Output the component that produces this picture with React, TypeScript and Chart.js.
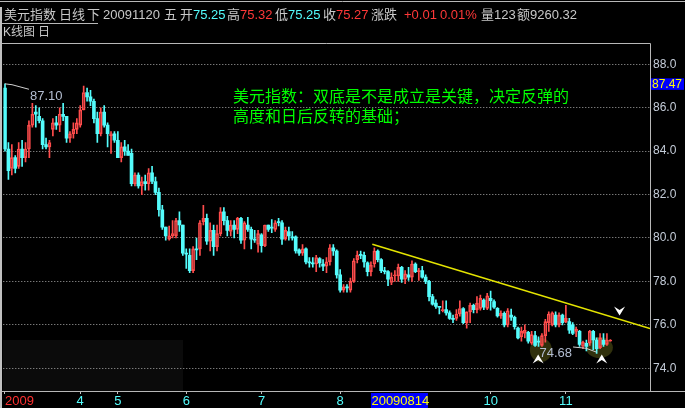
import React, { useEffect, useRef } from 'react';
import { Chart, registerables } from 'chart.js';

Chart.register(...registerables);

// ---- data (daily K-line, 美元指数) ----
const openP = [
  86.9, 84.1, 83.2, 83.7, 83.3, 84.1, 83.7, 84.1, 85.2, 85.8,
  85.6, 85.4, 84.3, 84.2, 85.0, 85.3, 85.2, 85.7, 85.6, 84.6,
  84.8, 85.0, 85.2, 85.9, 86.7, 86.5, 86.3, 85.5, 84.8, 85.8,
  85.2, 84.7, 84.8, 84.5, 83.7, 84.2, 84.0, 83.9, 82.5, 82.9,
  82.4, 82.6, 82.5, 83.0, 82.6, 82.1, 81.3, 80.5, 79.95, 80.1,
  80.1, 80.8, 80.6, 79.3, 79.2, 78.5, 79.5, 79.5, 80.75, 80.9,
  79.85, 80.35, 79.6, 80.2, 81.2, 80.8, 80.3, 80.6, 80.4, 80.9,
  79.9, 80.6, 80.4, 79.95, 79.7, 80.15, 79.65, 80.6, 80.5, 80.4,
  80.75, 80.7, 79.95, 80.3, 80.05, 80.05, 79.45, 79.3, 79.5, 78.9,
  78.85, 78.8, 79.05, 78.8, 78.7, 78.9, 79.55, 79.4, 78.3, 77.6,
  77.75, 77.6, 78.0, 79.0, 79.25, 79.2, 78.85, 78.45, 78.8, 79.4,
  79.0, 78.5, 78.45, 77.95, 78.25, 78.25, 78.65, 78.1, 78.3, 78.2,
  78.8, 78.45, 78.5, 78.2, 78.0, 77.3, 77.0, 76.85, 76.65, 76.7,
  76.55, 76.3, 76.3, 76.5, 76.75, 76.1, 76.6, 76.9, 76.7, 76.76,
  77.14, 76.76, 77.22, 77.07, 76.76, 76.41, 76.53, 75.99, 76.45, 76.35,
  75.85, 75.45, 75.6, 75.65, 75.15, 75.5, 75.25, 75.05, 75.5, 76.1,
  76.0, 76.45, 76.0, 76.45, 76.15, 76.15, 76.0, 75.7, 75.7, 75.0,
  75.15, 75.15, 75.7, 75.3, 74.95, 75.3, 75.1, 75.25,
];
const highP = [
  87.1, 84.4, 84.3, 83.8, 84.4, 84.5, 84.4, 85.4, 86.2, 86.1,
  86.0, 85.5, 84.6, 84.5, 85.5, 85.6, 86.0, 86.2, 85.6, 84.9,
  85.3, 85.5, 86.1, 87.0, 86.9, 86.8, 86.4, 85.8, 86.0, 86.1,
  85.3, 84.9, 84.9, 84.9, 84.4, 84.5, 84.3, 84.1, 83.0, 83.0,
  82.8, 82.9, 83.2, 83.3, 82.8, 82.3, 81.5, 80.5, 80.55, 80.8,
  80.9, 81.2, 80.6, 79.5, 79.5, 79.6, 80.0, 80.8, 81.5, 81.1,
  80.7, 80.6, 80.6, 81.4, 81.4, 81.0, 80.8, 80.8, 80.95, 80.95,
  80.75, 80.95, 80.5, 80.35, 80.35, 80.2, 80.6, 80.6, 80.85, 80.8,
  80.9, 80.8, 80.5, 80.5, 80.3, 80.1, 79.5, 79.7, 79.55, 79.1,
  79.1, 79.2, 79.1, 79.0, 79.1, 79.7, 79.7, 79.45, 78.55, 77.85,
  77.85, 78.15, 79.05, 79.4, 79.4, 79.35, 78.9, 78.9, 79.55, 79.45,
  79.05, 78.65, 78.5, 78.4, 78.5, 78.8, 78.7, 78.5, 78.65, 78.95,
  78.85, 78.6, 78.7, 78.3, 78.05, 77.4, 77.15, 76.85, 77.1, 77.1,
  76.65, 76.45, 76.7, 77.1, 76.8, 76.6, 77.0, 76.95, 77.3, 77.37,
  77.2, 77.45, 77.56, 77.15, 76.8, 76.65, 76.6, 76.75, 76.72, 76.4,
  75.9, 75.9, 76.0, 75.7, 75.7, 75.7, 75.45, 75.6, 76.25, 76.6,
  76.6, 76.6, 76.55, 76.5, 76.9, 76.3, 76.1, 75.9, 75.75, 75.25,
  75.3, 75.75, 75.75, 75.4, 75.6, 75.6, 75.6, 75.32,
];
const lowP = [
  84.0, 82.7, 82.9, 83.0, 83.2, 83.3, 83.5, 83.7, 85.1, 85.1,
  85.3, 84.1, 84.1, 83.7, 84.7, 85.0, 84.9, 85.4, 84.4, 84.4,
  84.6, 84.8, 85.1, 85.9, 86.3, 86.1, 85.3, 84.4, 84.7, 85.1,
  84.2, 83.9, 84.4, 83.7, 83.5, 83.8, 83.8, 82.4, 82.4, 82.3,
  82.0, 82.2, 82.2, 82.5, 82.0, 81.0, 80.4, 79.9, 79.9, 80.0,
  80.0, 80.3, 79.2, 78.6, 78.4, 78.4, 79.0, 79.2, 80.6, 79.7,
  79.4, 79.2, 79.4, 80.1, 80.6, 80.1, 80.1, 80.0, 80.2, 79.75,
  79.5, 80.3, 79.5, 79.8, 79.35, 79.35, 79.6, 80.3, 80.25, 80.3,
  80.55, 79.7, 79.9, 79.9, 79.9, 79.3, 79.2, 79.2, 78.8, 78.65,
  78.65, 78.45, 78.65, 78.5, 78.4, 78.75, 79.2, 78.15, 77.5, 77.5,
  77.5, 77.5, 77.95, 78.85, 79.05, 78.65, 78.25, 78.25, 78.65, 78.9,
  78.4, 78.35, 77.8, 77.85, 78.0, 78.0, 77.95, 77.9, 78.05, 78.0,
  78.4, 78.05, 78.15, 77.9, 77.1, 76.9, 76.75, 76.5, 76.6, 76.45,
  76.25, 76.1, 76.2, 76.4, 76.05, 75.85, 76.1, 76.55, 76.55, 76.68,
  76.7, 76.7, 76.68, 76.75, 76.35, 76.3, 75.9, 75.9, 76.2, 75.8,
  75.35, 75.25, 75.4, 75.15, 75.1, 75.0, 75.0, 75.0, 75.2, 75.7,
  75.95, 75.9, 75.9, 76.0, 76.1, 75.6, 75.55, 75.45, 75.0, 74.9,
  74.8, 75.05, 74.85, 74.68, 74.9, 75.0, 75.05, 75.25,
];
const closeP = [
  84.1, 83.1, 83.7, 83.2, 84.1, 83.7, 84.1, 85.2, 85.7, 85.7,
  85.4, 84.3, 84.2, 84.4, 85.3, 85.2, 85.7, 85.6, 84.6, 84.8,
  85.0, 85.3, 85.9, 86.7, 86.5, 86.3, 85.5, 84.8, 85.8, 85.2,
  84.8, 84.8, 84.5, 83.7, 84.2, 84.0, 83.8, 82.5, 82.9, 82.4,
  82.6, 82.5, 83.0, 82.6, 82.1, 81.3, 80.5, 80.1, 80.1, 80.2,
  80.8, 80.6, 79.3, 79.25, 78.5, 79.5, 79.45, 80.7, 80.9, 79.85,
  80.35, 79.6, 80.2, 81.2, 80.8, 80.35, 80.6, 80.4, 80.9, 79.9,
  80.7, 80.4, 79.95, 79.9, 80.2, 79.65, 80.6, 80.4, 80.45, 80.7,
  80.7, 79.95, 80.35, 80.1, 80.0, 79.4, 79.3, 79.5, 78.9, 78.85,
  78.8, 79.1, 78.85, 78.7, 78.9, 79.55, 79.4, 78.3, 77.6, 77.75,
  77.7, 78.0, 78.95, 79.2, 79.2, 78.9, 78.45, 78.75, 79.4, 79.0,
  78.5, 78.45, 78.1, 78.2, 78.3, 78.65, 78.1, 78.35, 78.2, 78.8,
  78.45, 78.5, 78.2, 78.0, 77.3, 76.95, 76.85, 76.8, 76.7, 76.55,
  76.3, 76.25, 76.5, 76.75, 76.1, 76.6, 76.9, 76.7, 77.0, 77.22,
  76.81, 77.33, 77.11, 76.81, 76.41, 76.53, 75.99, 76.65, 76.35, 75.91,
  75.4, 75.7, 75.75, 75.25, 75.55, 75.05, 75.2, 75.5, 76.15, 76.5,
  76.55, 76.0, 76.45, 76.1, 76.3, 75.75, 75.6, 75.8, 75.1, 75.2,
  75.0, 75.7, 75.3, 74.9, 75.4, 75.1, 75.3, 75.27,
];

// month boundaries (candle index) and their labels
const monthTickIdx = [0, 22, 33, 53, 75, 98, 142, 164];
const monthTickLabels = ['2009', '4', '5', '6', '7', '8', '10', '11'];
const yTickValues = [74, 76, 78, 80, 82, 84, 86, 88];

// trend line (index, price)
const trendIdx = [107.4, 188.6];
const trendPrice = [79.71, 75.83];

// leader lines to marked high / low
const highLeaderIdx = [0, 2.05, 7.0];
const highLeaderPrice = [87.1, 87.06, 86.85];
const lowLeaderIdx = [166.1, 169.9, 173.0];
const lowLeaderPrice = [74.98, 74.92, 74.74];

const cursorIdx = 107;
const cursorDate = '20090814';
const cursorPrice = '87.47';

const RED = '#ff4c4c';
const CYAN = '#54fcfc';
const GREY = '#c8c8c8';
const TXTRED = '#ff3838';
const LAT = "'Liberation Sans', 'Noto Sans CJK SC', sans-serif";
const CJK = "'Noto Sans CJK SC', sans-serif";

const headerSegs = [
  { t: '美元指数', x: 4, c: GREY },
  { t: '日线', x: 59, c: GREY },
  { t: '下', x: 87, c: GREY },
  { t: '20091120', x: 103, c: GREY },
  { t: '五', x: 164, c: GREY },
  { t: '开', x: 180, c: GREY },
  { t: '75.25', x: 193, c: CYAN },
  { t: '高', x: 227, c: GREY },
  { t: '75.32', x: 240, c: TXTRED },
  { t: '低', x: 275, c: GREY },
  { t: '75.25', x: 288, c: CYAN },
  { t: '收', x: 323, c: GREY },
  { t: '75.27', x: 336, c: TXTRED },
  { t: '涨跌', x: 371, c: GREY },
  { t: '+0.01', x: 404, c: TXTRED },
  { t: '0.01%', x: 440, c: TXTRED },
  { t: '量123', x: 481, c: GREY },
  { t: '额9260.32', x: 517, c: GREY },
];

const chevron = (ctx: any, cx: number, cy: number, dir: number) => {
  ctx.beginPath();
  ctx.moveTo(cx, cy - 4.5 * dir);
  ctx.lineTo(cx + 5.5, cy + 4.5 * dir);
  ctx.lineTo(cx, cy + 1 * dir);
  ctx.lineTo(cx - 5.5, cy + 4.5 * dir);
  ctx.closePath();
  ctx.fill();
};

const decorPlugin = {
  id: 'decor',
  beforeDraw(chart: any) {
    const ctx = chart.ctx;
    ctx.save();
    ctx.fillStyle = '#000';
    ctx.fillRect(0, 0, chart.width, chart.height);
    ctx.fillStyle = '#0b0b0b';
    ctx.fillRect(3, 340, 180, 51);
    ctx.restore();
  },
  beforeDatasetsDraw(chart: any) {
    const ctx = chart.ctx;
    const xs = chart.scales.x;
    const ys = chart.scales.y;
    ctx.save();
    ctx.fillStyle = 'rgba(52,52,14,0.95)';
    ctx.beginPath();
    ctx.ellipse(xs.getPixelForValue(156.7), ys.getPixelForValue(74.84), 11, 12, 0, 0, Math.PI * 2);
    ctx.fill();
    ctx.beginPath();
    ctx.ellipse(xs.getPixelForValue(173.8), ys.getPixelForValue(74.95), 13.5, 10.5, 0, 0, Math.PI * 2);
    ctx.fill();
    ctx.restore();
  },
  afterDraw(chart: any) {
    const ctx = chart.ctx;
    const xs = chart.scales.x;
    const ys = chart.scales.y;
    const ca = chart.chartArea;
    ctx.save();
    // frame
    ctx.strokeStyle = '#b8b8b8';
    ctx.lineWidth = 1;
    ctx.beginPath();
    ctx.moveTo(0, 1.5); ctx.lineTo(chart.width, 1.5);
    ctx.moveTo(2, 23.5); ctx.lineTo(98, 23.5);
    ctx.moveTo(2, Math.round(ca.top) - 0.5); ctx.lineTo(Math.round(ca.right) + 0.5, Math.round(ca.top) - 0.5);
    ctx.moveTo(Math.round(ca.right) + 0.5, Math.round(ca.top) - 0.5); ctx.lineTo(Math.round(ca.right) + 0.5, Math.round(ca.bottom) + 0.5);
    ctx.moveTo(2, Math.round(ca.bottom) + 0.5); ctx.lineTo(chart.width, Math.round(ca.bottom) + 0.5);
    ctx.stroke();
    ctx.lineWidth = 2;
    ctx.strokeStyle = '#c0c0c0';
    ctx.beginPath();
    ctx.moveTo(1, 7); ctx.lineTo(1, chart.height);
    ctx.stroke();

    // header
    ctx.textBaseline = 'middle';
    ctx.textAlign = 'left';
    ctx.font = `13px ${LAT}`;
    headerSegs.forEach((s) => {
      ctx.fillStyle = s.c;
      ctx.fillText(s.t, s.x, 15);
    });
    ctx.font = `12px ${LAT}`;
    ctx.fillStyle = GREY;
    ctx.fillText('K线图', 3, 33);
    ctx.fillText('日', 38, 33);

    // leader lines
    ctx.strokeStyle = '#d0d0d0';
    ctx.lineWidth = 1;
    ctx.beginPath();
    highLeaderIdx.forEach((v, i) => {
      const px = xs.getPixelForValue(v), py = ys.getPixelForValue(highLeaderPrice[i]);
      if (i === 0) ctx.moveTo(px, py); else ctx.lineTo(px, py);
    });
    ctx.stroke();
    ctx.beginPath();
    lowLeaderIdx.forEach((v, i) => {
      const px = xs.getPixelForValue(v), py = ys.getPixelForValue(lowLeaderPrice[i]);
      if (i === 0) ctx.moveTo(px, py); else ctx.lineTo(px, py);
    });
    ctx.stroke();

    // marked high / low values
    ctx.font = `13px ${LAT}`;
    ctx.fillStyle = '#b4bed2';
    const hx = xs.getPixelForValue(highLeaderIdx[2]);
    const hy = ys.getPixelForValue(highLeaderPrice[2]);
    ctx.fillText(highP[0].toFixed(2), hx + 1, hy + 7);
    const lx = xs.getPixelForValue(lowLeaderIdx[0]);
    const ly = ys.getPixelForValue(lowLeaderPrice[0]);
    ctx.textAlign = 'right';
    ctx.fillText(Math.min(...lowP).toFixed(2), lx - 1, ly + 6);
    ctx.textAlign = 'left';

    // chevrons
    ctx.fillStyle = '#ffffff';
    chevron(ctx, xs.getPixelForValue(155.9), ys.getPixelForValue(74.43), 1);
    chevron(ctx, xs.getPixelForValue(174.5), ys.getPixelForValue(74.43), 1);
    chevron(ctx, xs.getPixelForValue(179.7), ys.getPixelForValue(76.64), -1);

    // comment text
    ctx.font = `16px ${CJK}`;
    ctx.fillStyle = '#00ff00';
    ctx.fillText('美元指数：双底是不是成立是关键，决定反弹的', 233, ca.top + 52);
    ctx.fillText('高度和日后反转的基础；', 233, ca.top + 72);

    // cursor price box on right
    const cy = ys.getPixelForValue(87.1);
    ctx.fillStyle = '#0000ff';
    ctx.fillRect(ca.right + 1, cy - 5.5, 33, 11.5);
    ctx.fillStyle = '#ffff00';
    ctx.font = `12px ${LAT}`;
    ctx.fillText(cursorPrice, ca.right + 2, cy + 0.5);

    // cursor date box on bottom
    const dx = xs.getPixelForValue(cursorIdx);
    ctx.fillStyle = '#0000ff';
    ctx.fillRect(dx, ca.bottom + 2, 57, 15);
    ctx.fillStyle = '#ffff00';
    ctx.font = `13px ${LAT}`;
    ctx.fillText(cursorDate, dx + 0.5, ca.bottom + 10);
    ctx.restore();
  },
};

export default function App() {
  const ref = useRef<HTMLCanvasElement>(null);
  useEffect(() => {
    document.body.style.margin = '0';
    document.body.style.background = '#000';
    const canvas = ref.current;
    if (!canvas) return;
    const idx = closeP.map((_, i) => i);
    const up = idx.map((i) => closeP[i] >= openP[i]);
    const col = idx.map((i) => (up[i] ? RED : CYAN));
    const chart = new Chart(canvas, {
      type: 'bar',
      data: {
        datasets: [
          {
            type: 'line',
            data: trendIdx.map((v, i) => ({ x: v, y: trendPrice[i] })),
            borderColor: '#e4e400',
            borderWidth: 1.6,
            pointRadius: 0,
            order: 0,
          } as any,
          {
            data: idx.map((i) => ({ x: i, y: [openP[i], closeP[i]] })),
            backgroundColor: idx.map((i) => (up[i] ? 'rgba(0,0,0,0)' : CYAN)),
            borderColor: col,
            borderWidth: idx.map((i) => (up[i] ? 1 : 0)),
            borderSkipped: false,
            barThickness: 3,
            minBarLength: 1,
            grouped: false,
            order: 1,
          } as any,
          {
            data: idx.map((i) => ({ x: i, y: [Math.max(openP[i], closeP[i]), highP[i]] })),
            backgroundColor: col,
            borderWidth: 0,
            barThickness: 1,
            grouped: false,
            order: 2,
          } as any,
          {
            data: idx.map((i) => ({ x: i, y: [lowP[i], Math.min(openP[i], closeP[i])] })),
            backgroundColor: col,
            borderWidth: 0,
            barThickness: 1,
            grouped: false,
            order: 2,
          } as any,
        ],
      },
      options: {
        responsive: false,
        animation: false,
        layout: { padding: { left: 3.29, top: 44, right: 0, bottom: 0 }, autoPadding: false },
        plugins: { legend: { display: false }, tooltip: { enabled: false } },
        scales: {
          x: {
            type: 'linear',
            min: -0.5,
            max: 188.6,
            offset: false,
            afterBuildTicks: (ax: any) => {
              ax.ticks = [...monthTickIdx, 188.6].map((v) => ({ value: v }));
            },
            afterFit: (ax: any) => {
              ax.height = 17;
            },
            ticks: {
              autoSkip: false,
              maxRotation: 0,
              minRotation: 0,
              align: 'inner',
              padding: 0,
              font: { family: LAT, size: 13 },
              color: (c: any) => (c.index === 0 ? '#ff3030' : CYAN),
              callback: (_v: any, i: number) => (i < monthTickLabels.length ? monthTickLabels[i] : ''),
            },
            grid: {
              drawOnChartArea: false,
              drawTicks: true,
              tickLength: 3,
              offset: false,
              color: (c: any) => (c.index < monthTickIdx.length ? '#c0c0c0' : 'rgba(0,0,0,0)'),
            },
            border: { display: false },
          },
          y: {
            type: 'linear',
            position: 'right',
            min: 72.952,
            max: 88.935,
            afterBuildTicks: (ax: any) => {
              ax.ticks = yTickValues.map((v) => ({ value: v }));
            },
            afterFit: (ax: any) => {
              ax.width = 35;
            },
            ticks: {
              padding: 3,
              color: '#c4ccd8',
              font: { family: LAT, size: 12 },
              callback: (v: any) => Number(v).toFixed(1),
            },
            grid: { color: '#a8a8a8', drawTicks: false, lineWidth: 1 },
            border: { display: false, dash: [1, 2] },
          },
        },
      } as any,
      plugins: [decorPlugin],
    });
    return () => chart.destroy();
  }, []);
  return (
    <div style={{ position: 'fixed', left: 0, top: 0, width: 685, height: 408, background: '#000' }}>
      <canvas ref={ref} width={685} height={408} style={{ display: 'block' }} />
    </div>
  );
}
